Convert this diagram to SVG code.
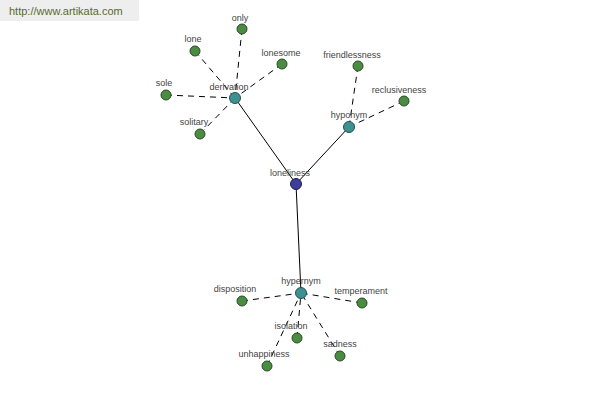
<svg xmlns="http://www.w3.org/2000/svg" width="600" height="400" viewBox="0 0 600 400">
<style>
.solid{stroke:#000;stroke-width:1;fill:none}
.dash{stroke:#000;stroke-width:1;fill:none;stroke-dasharray:6 5}
.leaf{fill:#4a8c42;stroke:#2a4a25;stroke-width:1}
.rel{fill:#3f9090;stroke:#235050;stroke-width:1}
.root{fill:#3d3d9a;stroke:#1e1e50;stroke-width:1}
text{font-family:"Liberation Sans",Arial,sans-serif;font-size:9px;fill:#444;text-anchor:middle}
.wm{font-size:11px;fill:#5a6a30;text-anchor:start}
</style>
<rect width="600" height="400" fill="#fff"/>
<rect x="0" y="0" width="139" height="21" fill="#eeeeee"/>
<text class="wm" x="9" y="15">http://www.artikata.com</text>
<g id="connectors">
<line class="solid" x1="235" y1="98" x2="296" y2="184"/>
<line class="solid" x1="349" y1="127" x2="296" y2="184"/>
<line class="solid" x1="301" y1="293" x2="296" y2="184"/>
<line class="dash" x1="242" y1="29" x2="235" y2="98"/>
<line class="dash" x1="195" y1="51" x2="235" y2="98"/>
<line class="dash" x1="282" y1="64" x2="235" y2="98"/>
<line class="dash" x1="166" y1="95" x2="235" y2="98"/>
<line class="dash" x1="200" y1="134" x2="235" y2="98"/>
<line class="dash" x1="358" y1="66" x2="349" y2="127"/>
<line class="dash" x1="404" y1="101" x2="349" y2="127"/>
<line class="dash" x1="242" y1="301" x2="301" y2="293"/>
<line class="dash" x1="362" y1="303" x2="301" y2="293"/>
<line class="dash" x1="297" y1="338" x2="301" y2="293"/>
<line class="dash" x1="340" y1="356" x2="301" y2="293"/>
<line class="dash" x1="267" y1="366" x2="301" y2="293"/>
</g>
<g id="loneliness"><circle class="root" cx="296" cy="184" r="5.5"/><text x="290" y="176">loneliness</text></g>
<g id="derivation"><circle class="rel" cx="235" cy="98" r="5.5"/><text x="229" y="90">derivation</text></g>
<g id="hyponym"><circle class="rel" cx="349" cy="127" r="5.5"/><text x="349" y="118">hyponym</text></g>
<g id="hypernym"><circle class="rel" cx="301" cy="293" r="5.5"/><text x="301" y="284">hypernym</text></g>
<g id="only"><circle class="leaf" cx="242" cy="29" r="5"/><text x="240" y="21">only</text></g>
<g id="lone"><circle class="leaf" cx="195" cy="51" r="5"/><text x="193" y="42">lone</text></g>
<g id="lonesome"><circle class="leaf" cx="282" cy="64" r="5"/><text x="281" y="56">lonesome</text></g>
<g id="sole"><circle class="leaf" cx="166" cy="95" r="5"/><text x="164" y="86">sole</text></g>
<g id="solitary"><circle class="leaf" cx="200" cy="134" r="5"/><text x="194" y="125">solitary</text></g>
<g id="friendlessness"><circle class="leaf" cx="358" cy="66" r="5"/><text x="352" y="58">friendlessness</text></g>
<g id="reclusiveness"><circle class="leaf" cx="404" cy="101" r="5"/><text x="399" y="93">reclusiveness</text></g>
<g id="disposition"><circle class="leaf" cx="242" cy="301" r="5"/><text x="235" y="292">disposition</text></g>
<g id="temperament"><circle class="leaf" cx="362" cy="303" r="5"/><text x="361" y="294">temperament</text></g>
<g id="isolation"><circle class="leaf" cx="297" cy="338" r="5"/><text x="291" y="329">isolation</text></g>
<g id="sadness"><circle class="leaf" cx="340" cy="356" r="5"/><text x="340" y="347">sadness</text></g>
<g id="unhappiness"><circle class="leaf" cx="267" cy="366" r="5"/><text x="264" y="357">unhappiness</text></g>
</svg>
